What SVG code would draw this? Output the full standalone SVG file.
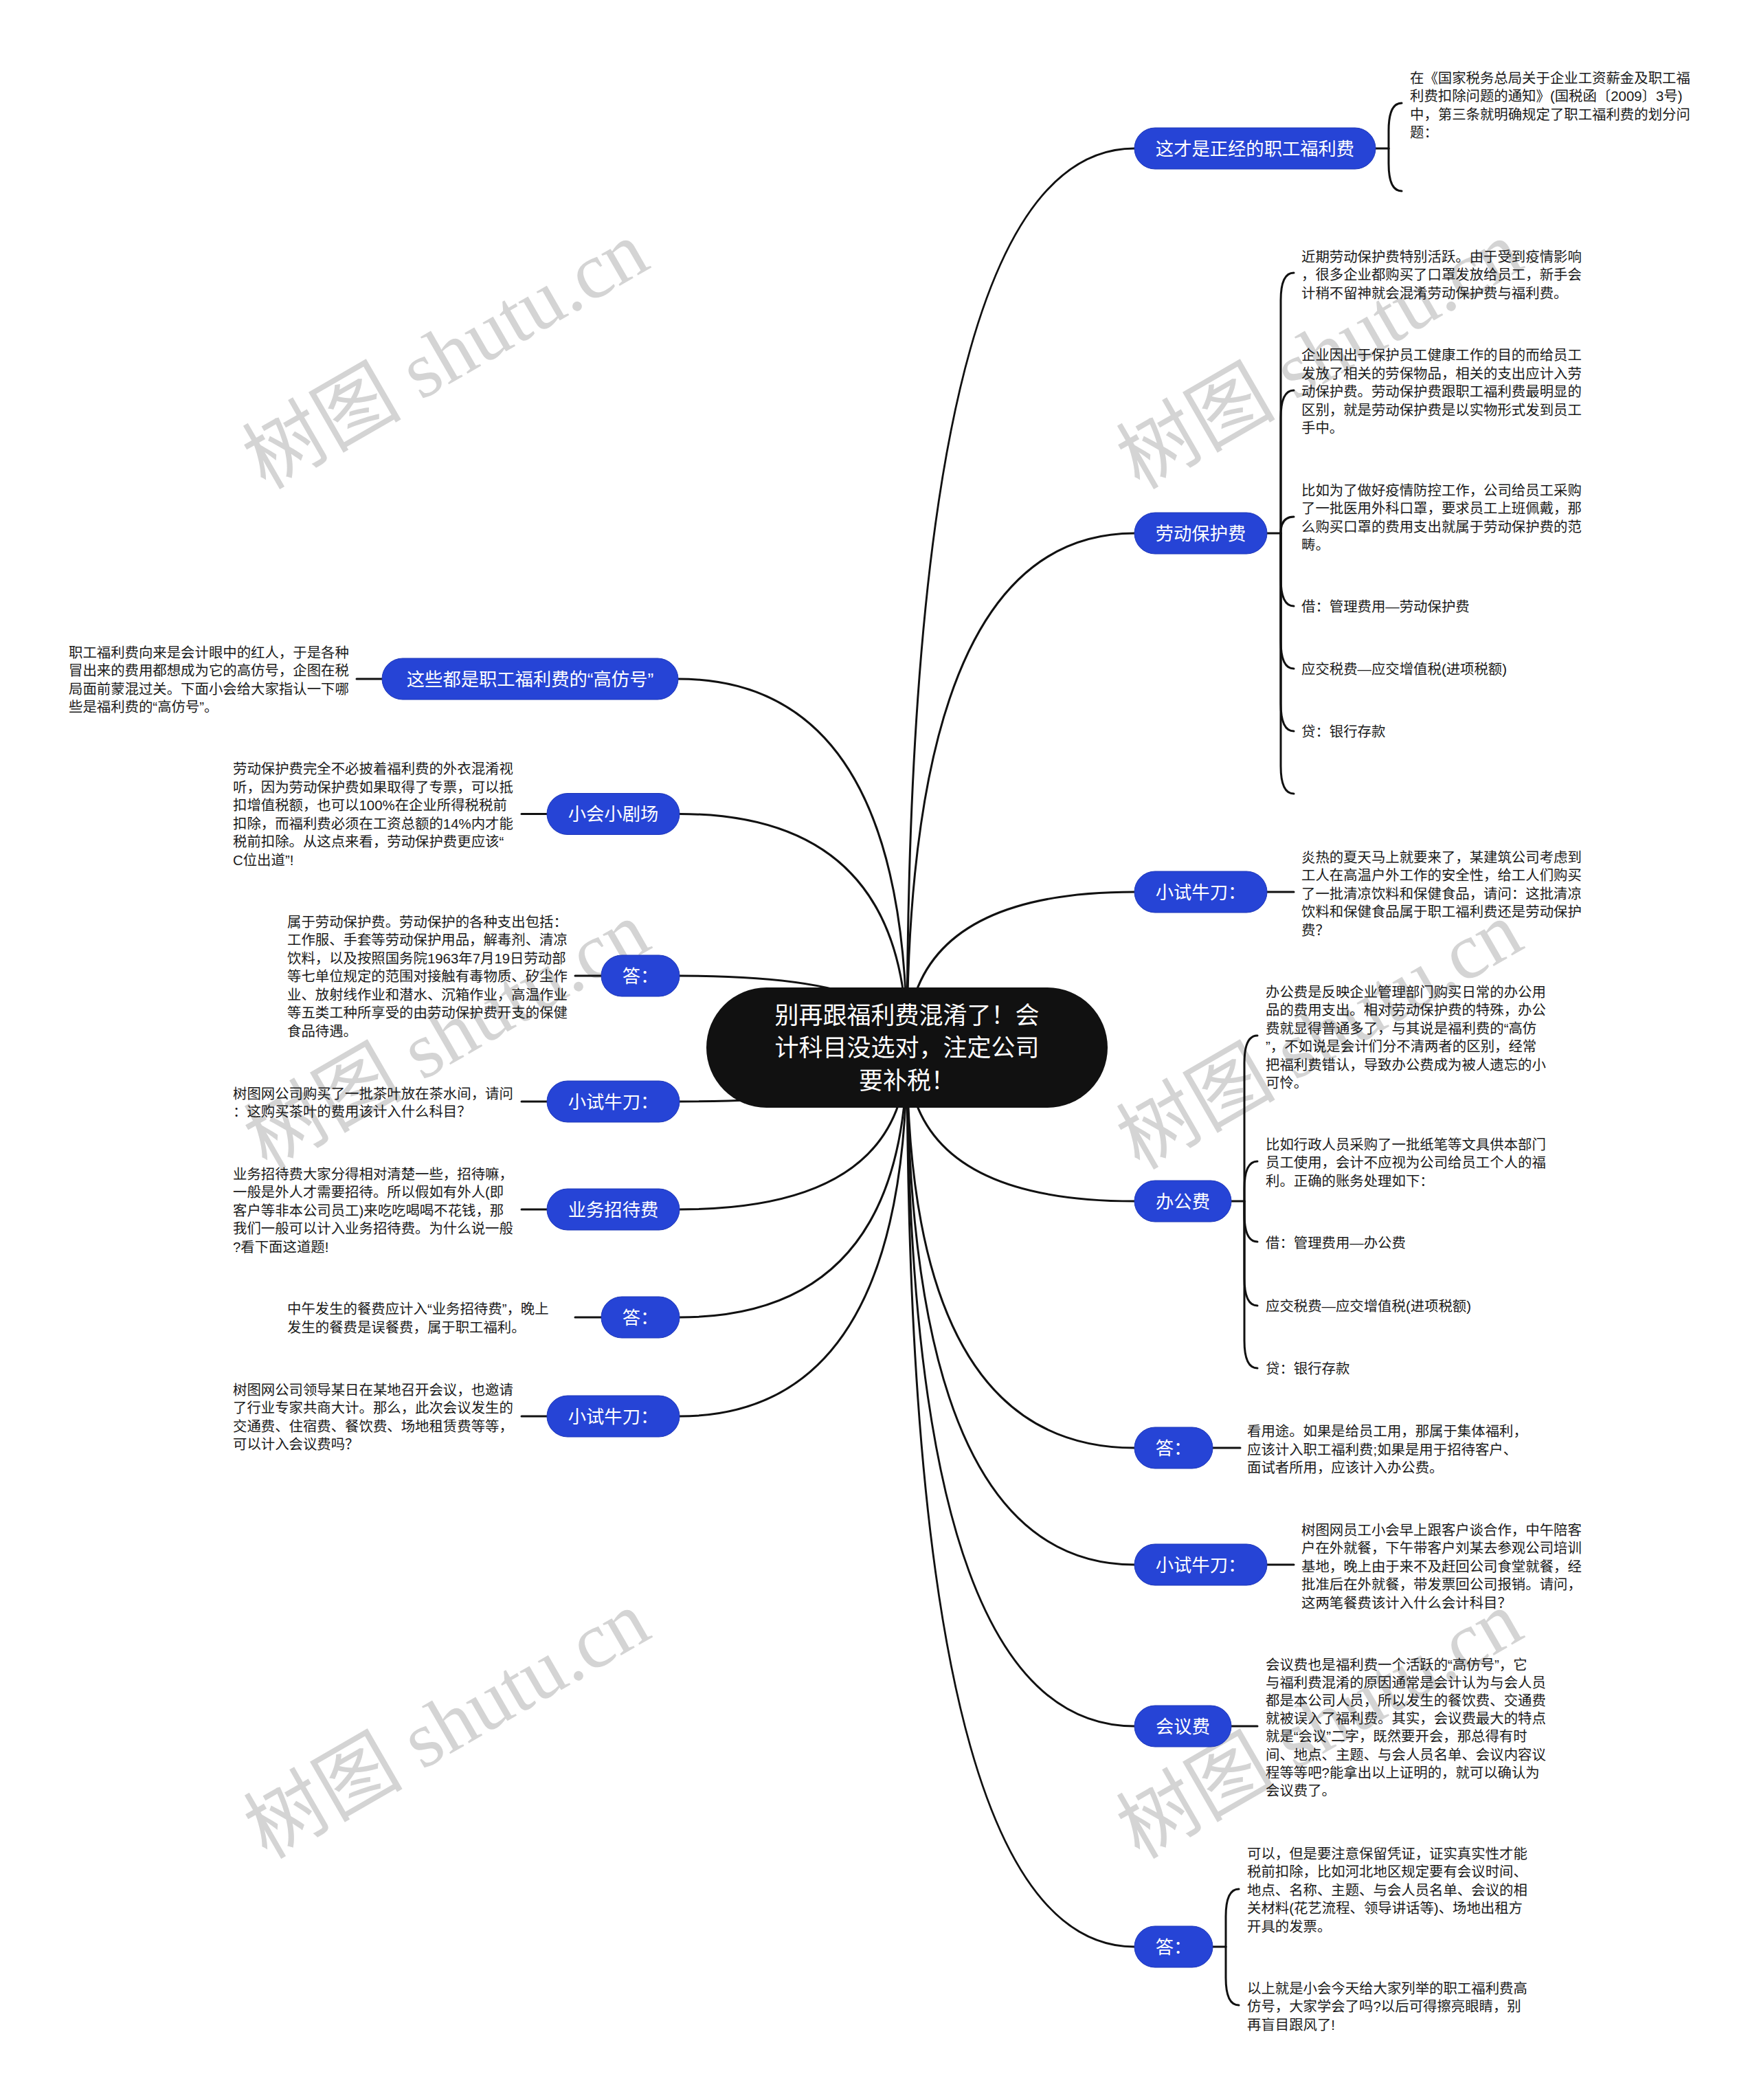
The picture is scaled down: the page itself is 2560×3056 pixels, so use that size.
<svg xmlns="http://www.w3.org/2000/svg" width="2560" height="3056" viewBox="0 0 2560 3056">
<style>
.wm{font-family:"Liberation Serif","Noto Sans CJK SC",serif;font-size:116px;fill:#d4d4d4;text-anchor:middle}
.conn{fill:none;stroke:#111;stroke-width:3;stroke-linecap:round}
.pill{fill:#2644d6;stroke:#1d36b8;stroke-width:1}
.root{fill:#111}
.pt{font-family:"Liberation Sans","Noto Sans CJK SC",sans-serif;font-size:26.3px;fill:#fff;text-anchor:middle}
.rt{font-family:"Liberation Sans","Noto Sans CJK SC",sans-serif;font-size:35px;fill:#fff;text-anchor:middle}
.lf{font-family:"Liberation Sans","Noto Sans CJK SC",sans-serif;font-size:20.4px;fill:#1a1a1a}
</style>
<rect width="2560" height="3056" fill="#fff"/>
<g id="watermarks">
<text class="wm" transform="translate(649,518) rotate(-30)" y="38">树图 shutu.cn</text>
<text class="wm" transform="translate(1921,518) rotate(-30)" y="38">树图 shutu.cn</text>
<text class="wm" transform="translate(651,1508) rotate(-30)" y="38">树图 shutu.cn</text>
<text class="wm" transform="translate(1921,1508) rotate(-30)" y="38">树图 shutu.cn</text>
<text class="wm" transform="translate(651,2511) rotate(-30)" y="38">树图 shutu.cn</text>
<text class="wm" transform="translate(1921,2511) rotate(-30)" y="38">树图 shutu.cn</text>
</g>
<g id="connectors">
<path class="conn" d="M1320,1525 Q1320,216 1651,216"/>
<path class="conn" d="M1320,1525 Q1320,776 1651,776"/>
<path class="conn" d="M1320,1525 Q1320,1298 1651,1298"/>
<path class="conn" d="M1320,1525 Q1320,1748 1651,1748"/>
<path class="conn" d="M1320,1525 Q1320,2107 1651,2107"/>
<path class="conn" d="M1320,1525 Q1320,2277 1651,2277"/>
<path class="conn" d="M1320,1525 Q1320,2512 1651,2512"/>
<path class="conn" d="M1320,1525 Q1320,2833 1651,2833"/>
<path class="conn" d="M1320,1525 Q1320,988 987,988"/>
<path class="conn" d="M1320,1525 Q1320,1184.5 989,1184.5"/>
<path class="conn" d="M1320,1525 Q1320,1420 989,1420"/>
<path class="conn" d="M1320,1525 Q1320,1603 989,1603"/>
<path class="conn" d="M1320,1525 Q1320,1760 989,1760"/>
<path class="conn" d="M1320,1525 Q1320,1917 989,1917"/>
<path class="conn" d="M1320,1525 Q1320,2061 989,2061"/>
<path class="conn" d="M2002,216 H2021"/>
<path class="conn" d="M2021,216 V190 C2021,166 2026,150 2040,150"/>
<path class="conn" d="M2021,216 V238 C2021,262 2026,278 2040,278"/>
<path class="conn" d="M1844,776 H1864"/>
<path class="conn" d="M1864,776 V437 C1864,413 1869,397 1883,397"/>
<path class="conn" d="M1864,776 V608 C1864,584 1869,568 1883,568"/>
<path class="conn" d="M1864,776 C1864,762 1869,752 1883,752"/>
<path class="conn" d="M1864,776 V842 C1864,866 1869,882 1883,882"/>
<path class="conn" d="M1864,776 V933 C1864,957 1869,973 1883,973"/>
<path class="conn" d="M1864,776 V1024 C1864,1048 1869,1064 1883,1064"/>
<path class="conn" d="M1864,776 V1115 C1864,1139 1869,1155 1883,1155"/>
<path class="conn" d="M1844,1298 H1883"/>
<path class="conn" d="M1792,1748 H1811"/>
<path class="conn" d="M1811,1748 V1547 C1811,1523 1816,1507 1830,1507"/>
<path class="conn" d="M1811,1748 V1730 C1811,1706 1816,1690 1830,1690"/>
<path class="conn" d="M1811,1748 V1767 C1811,1791 1816,1807 1830,1807"/>
<path class="conn" d="M1811,1748 V1860 C1811,1884 1816,1900 1830,1900"/>
<path class="conn" d="M1811,1748 V1951 C1811,1975 1816,1991 1830,1991"/>
<path class="conn" d="M1765,2107 H1805"/>
<path class="conn" d="M1844,2277 H1883"/>
<path class="conn" d="M1792,2512 H1830"/>
<path class="conn" d="M1765,2833 H1784"/>
<path class="conn" d="M1784,2833 V2789 C1784,2765 1789,2749 1803,2749"/>
<path class="conn" d="M1784,2833 V2878 C1784,2902 1789,2918 1803,2918"/>
<path class="conn" d="M556,988 H519"/>
<path class="conn" d="M796,1184.5 H759"/>
<path class="conn" d="M875,1420 H837"/>
<path class="conn" d="M796,1603 H759"/>
<path class="conn" d="M796,1760 H759"/>
<path class="conn" d="M875,1917 H837"/>
<path class="conn" d="M796,2061 H759"/>
</g>
<g id="root">
<rect class="root" x="1028" y="1437" width="584" height="175" rx="87.5"/>
<text class="rt"><tspan x="1320" y="1490">别再跟福利费混淆了！会</tspan><tspan x="1320" y="1537">计科目没选对，注定公司</tspan><tspan x="1320" y="1585">要补税！</tspan></text>
</g>
<g id="r1">
<rect class="pill" x="1651" y="186" width="351" height="60" rx="30"/>
<text class="pt" x="1826.5" y="225.5">这才是正经的职工福利费</text>
</g>
<g id="r1-c1">
<text class="lf"><tspan x="2052" y="120.5">在《国家税务总局关于企业工资薪金及职工福</tspan><tspan x="2052" y="147">利费扣除问题的通知》(国税函〔2009〕3号)</tspan><tspan x="2052" y="173.5">中，第三条就明确规定了职工福利费的划分问</tspan><tspan x="2052" y="200">题：</tspan></text>
</g>
<g id="r2">
<rect class="pill" x="1651" y="746" width="193" height="60" rx="30"/>
<text class="pt" x="1747.5" y="785.5">劳动保护费</text>
</g>
<g id="r2-c1">
<text class="lf"><tspan x="1894" y="380.5">近期劳动保护费特别活跃。由于受到疫情影响</tspan><tspan x="1894" y="407">，很多企业都购买了口罩发放给员工，新手会</tspan><tspan x="1894" y="433.5">计稍不留神就会混淆劳动保护费与福利费。</tspan></text>
</g>
<g id="r2-c2">
<text class="lf"><tspan x="1894" y="524">企业因出于保护员工健康工作的目的而给员工</tspan><tspan x="1894" y="550.5">发放了相关的劳保物品，相关的支出应计入劳</tspan><tspan x="1894" y="577">动保护费。劳动保护费跟职工福利费最明显的</tspan><tspan x="1894" y="603.5">区别，就是劳动保护费是以实物形式发到员工</tspan><tspan x="1894" y="630">手中。</tspan></text>
</g>
<g id="r2-c3">
<text class="lf"><tspan x="1894" y="720.5">比如为了做好疫情防控工作，公司给员工采购</tspan><tspan x="1894" y="747">了一批医用外科口罩，要求员工上班佩戴，那</tspan><tspan x="1894" y="773.5">么购买口罩的费用支出就属于劳动保护费的范</tspan><tspan x="1894" y="800">畴。</tspan></text>
</g>
<g id="r2-c4"><text class="lf" x="1894" y="890">借：管理费用—劳动保护费</text></g>
<g id="r2-c5"><text class="lf" x="1894" y="981">应交税费—应交增值税(进项税额)</text></g>
<g id="r2-c6"><text class="lf" x="1894" y="1071.5">贷：银行存款</text></g>
<g id="r3">
<rect class="pill" x="1651" y="1268" width="193" height="60" rx="30"/>
<text class="pt" x="1747.5" y="1307.5">小试牛刀：</text>
</g>
<g id="r3-c1">
<text class="lf"><tspan x="1894" y="1254.5">炎热的夏天马上就要来了，某建筑公司考虑到</tspan><tspan x="1894" y="1281">工人在高温户外工作的安全性，给工人们购买</tspan><tspan x="1894" y="1307.5">了一批清凉饮料和保健食品，请问：这批清凉</tspan><tspan x="1894" y="1334">饮料和保健食品属于职工福利费还是劳动保护</tspan><tspan x="1894" y="1360.5">费？</tspan></text>
</g>
<g id="r4">
<rect class="pill" x="1651" y="1718" width="141" height="60" rx="30"/>
<text class="pt" x="1721.5" y="1757.5">办公费</text>
</g>
<g id="r4-c1">
<text class="lf"><tspan x="1842" y="1450.5">办公费是反映企业管理部门购买日常的办公用</tspan><tspan x="1842" y="1477">品的费用支出。相对劳动保护费的特殊，办公</tspan><tspan x="1842" y="1503.5">费就显得普通多了，与其说是福利费的“高仿</tspan><tspan x="1842" y="1530">”，不如说是会计们分不清两者的区别，经常</tspan><tspan x="1842" y="1556.5">把福利费错认，导致办公费成为被人遗忘的小</tspan><tspan x="1842" y="1583">可怜。</tspan></text>
</g>
<g id="r4-c2">
<text class="lf"><tspan x="1842" y="1672.5">比如行政人员采购了一批纸笔等文具供本部门</tspan><tspan x="1842" y="1699">员工使用，会计不应视为公司给员工个人的福</tspan><tspan x="1842" y="1725.5">利。正确的账务处理如下：</tspan></text>
</g>
<g id="r4-c3"><text class="lf" x="1842" y="1815.5">借：管理费用—办公费</text></g>
<g id="r4-c4"><text class="lf" x="1842" y="1907.5">应交税费—应交增值税(进项税额)</text></g>
<g id="r4-c5"><text class="lf" x="1842" y="1998.5">贷：银行存款</text></g>
<g id="r5">
<rect class="pill" x="1651" y="2077" width="114" height="60" rx="30"/>
<text class="pt" x="1708" y="2116.5">答：</text>
</g>
<g id="r5-c1">
<text class="lf"><tspan x="1815" y="2090">看用途。如果是给员工用，那属于集体福利，</tspan><tspan x="1815" y="2116.5">应该计入职工福利费;如果是用于招待客户、</tspan><tspan x="1815" y="2143">面试者所用，应该计入办公费。</tspan></text>
</g>
<g id="r6">
<rect class="pill" x="1651" y="2247" width="193" height="60" rx="30"/>
<text class="pt" x="1747.5" y="2286.5">小试牛刀：</text>
</g>
<g id="r6-c1">
<text class="lf"><tspan x="1894" y="2233.5">树图网员工小会早上跟客户谈合作，中午陪客</tspan><tspan x="1894" y="2260">户在外就餐，下午带客户刘某去参观公司培训</tspan><tspan x="1894" y="2286.5">基地，晚上由于来不及赶回公司食堂就餐，经</tspan><tspan x="1894" y="2313">批准后在外就餐，带发票回公司报销。请问，</tspan><tspan x="1894" y="2339.5">这两笔餐费该计入什么会计科目？</tspan></text>
</g>
<g id="r7">
<rect class="pill" x="1651" y="2482" width="141" height="60" rx="30"/>
<text class="pt" x="1721.5" y="2521.5">会议费</text>
</g>
<g id="r7-c1">
<text class="lf"><tspan x="1842" y="2429.5">会议费也是福利费一个活跃的“高仿号”，它</tspan><tspan x="1842" y="2455.7">与福利费混淆的原因通常是会计认为与会人员</tspan><tspan x="1842" y="2481.9">都是本公司人员，所以发生的餐饮费、交通费</tspan><tspan x="1842" y="2508.1">就被误入了福利费。其实，会议费最大的特点</tspan><tspan x="1842" y="2534.3">就是“会议”二字，既然要开会，那总得有时</tspan><tspan x="1842" y="2560.5">间、地点、主题、与会人员名单、会议内容议</tspan><tspan x="1842" y="2586.7">程等等吧?能拿出以上证明的，就可以确认为</tspan><tspan x="1842" y="2612.9">会议费了。</tspan></text>
</g>
<g id="r8">
<rect class="pill" x="1651" y="2803" width="114" height="60" rx="30"/>
<text class="pt" x="1708" y="2842.5">答：</text>
</g>
<g id="r8-c1">
<text class="lf"><tspan x="1815" y="2704.5">可以，但是要注意保留凭证，证实真实性才能</tspan><tspan x="1815" y="2731">税前扣除，比如河北地区规定要有会议时间、</tspan><tspan x="1815" y="2757.5">地点、名称、主题、与会人员名单、会议的相</tspan><tspan x="1815" y="2784">关材料(花艺流程、领导讲话等)、场地出租方</tspan><tspan x="1815" y="2810.5">开具的发票。</tspan></text>
</g>
<g id="r8-c2">
<text class="lf"><tspan x="1815" y="2900.5">以上就是小会今天给大家列举的职工福利费高</tspan><tspan x="1815" y="2927">仿号，大家学会了吗?以后可得擦亮眼睛，别</tspan><tspan x="1815" y="2953.5">再盲目跟风了!</tspan></text>
</g>
<g id="l1">
<rect class="pill" x="556" y="958" width="431" height="60" rx="30"/>
<text class="pt" x="771.5" y="997.5">这些都是职工福利费的“高仿号”</text>
</g>
<g id="l1-c1">
<text class="lf"><tspan x="100" y="957">职工福利费向来是会计眼中的红人，于是各种</tspan><tspan x="100" y="983.2">冒出来的费用都想成为它的高仿号，企图在税</tspan><tspan x="100" y="1009.5">局面前蒙混过关。下面小会给大家指认一下哪</tspan><tspan x="100" y="1035.7">些是福利费的“高仿号”。</tspan></text>
</g>
<g id="l2">
<rect class="pill" x="796" y="1154.5" width="193" height="60" rx="30"/>
<text class="pt" x="892.5" y="1194">小会小剧场</text>
</g>
<g id="l2-c1">
<text class="lf"><tspan x="339" y="1126">劳动保护费完全不必披着福利费的外衣混淆视</tspan><tspan x="339" y="1152.5">听，因为劳动保护费如果取得了专票，可以抵</tspan><tspan x="339" y="1179">扣增值税额，也可以100%在企业所得税税前</tspan><tspan x="339" y="1205.5">扣除，而福利费必须在工资总额的14%内才能</tspan><tspan x="339" y="1232">税前扣除。从这点来看，劳动保护费更应该“</tspan><tspan x="339" y="1258.5">C位出道”!</tspan></text>
</g>
<g id="l3">
<rect class="pill" x="875" y="1390" width="114" height="60" rx="30"/>
<text class="pt" x="932" y="1429.5">答：</text>
</g>
<g id="l3-c1">
<text class="lf"><tspan x="418" y="1349">属于劳动保护费。劳动保护的各种支出包括：</tspan><tspan x="418" y="1375.4">工作服、手套等劳动保护用品，解毒剂、清凉</tspan><tspan x="418" y="1401.8">饮料，以及按照国务院1963年7月19日劳动部</tspan><tspan x="418" y="1428.2">等七单位规定的范围对接触有毒物质、矽尘作</tspan><tspan x="418" y="1454.6">业、放射线作业和潜水、沉箱作业，高温作业</tspan><tspan x="418" y="1481">等五类工种所享受的由劳动保护费开支的保健</tspan><tspan x="418" y="1507.5">食品待遇。</tspan></text>
</g>
<g id="l4">
<rect class="pill" x="796" y="1573" width="193" height="60" rx="30"/>
<text class="pt" x="892.5" y="1612.5">小试牛刀：</text>
</g>
<g id="l4-c1">
<text class="lf"><tspan x="339" y="1598.5">树图网公司购买了一批茶叶放在茶水间，请问</tspan><tspan x="339" y="1625">：这购买茶叶的费用该计入什么科目？</tspan></text>
</g>
<g id="l5">
<rect class="pill" x="796" y="1730" width="193" height="60" rx="30"/>
<text class="pt" x="892.5" y="1769.5">业务招待费</text>
</g>
<g id="l5-c1">
<text class="lf"><tspan x="339" y="1715.5">业务招待费大家分得相对清楚一些，招待嘛，</tspan><tspan x="339" y="1742">一般是外人才需要招待。所以假如有外人(即</tspan><tspan x="339" y="1768.5">客户等非本公司员工)来吃吃喝喝不花钱，那</tspan><tspan x="339" y="1795">我们一般可以计入业务招待费。为什么说一般</tspan><tspan x="339" y="1821.5">?看下面这道题!</tspan></text>
</g>
<g id="l6">
<rect class="pill" x="875" y="1887" width="114" height="60" rx="30"/>
<text class="pt" x="932" y="1926.5">答：</text>
</g>
<g id="l6-c1">
<text class="lf"><tspan x="418" y="1912">中午发生的餐费应计入“业务招待费”，晚上</tspan><tspan x="418" y="1938.5">发生的餐费是误餐费，属于职工福利。</tspan></text>
</g>
<g id="l7">
<rect class="pill" x="796" y="2031" width="193" height="60" rx="30"/>
<text class="pt" x="892.5" y="2070.5">小试牛刀：</text>
</g>
<g id="l7-c1">
<text class="lf"><tspan x="339" y="2029.5">树图网公司领导某日在某地召开会议，也邀请</tspan><tspan x="339" y="2056">了行业专家共商大计。那么，此次会议发生的</tspan><tspan x="339" y="2082.5">交通费、住宿费、餐饮费、场地租赁费等等，</tspan><tspan x="339" y="2109">可以计入会议费吗？</tspan></text>
</g>
</svg>
